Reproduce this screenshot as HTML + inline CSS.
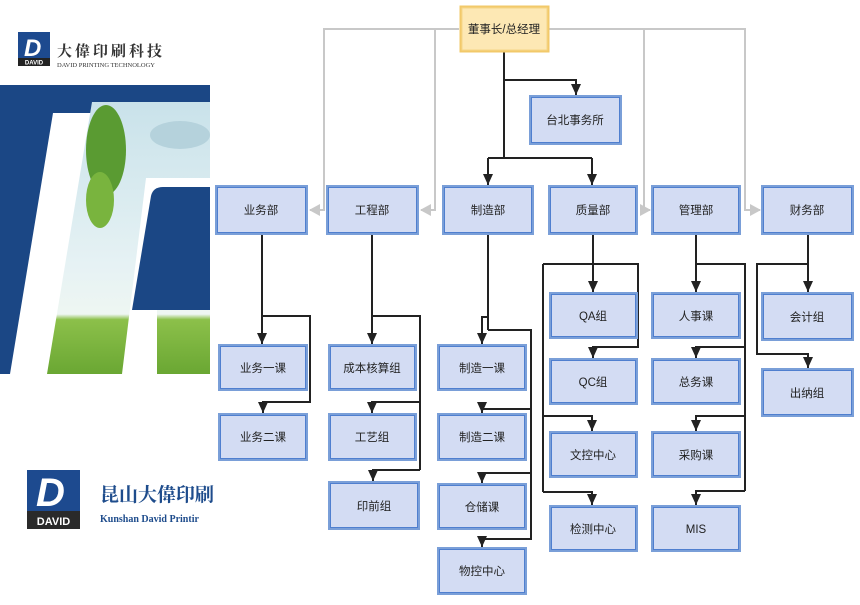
<!DOCTYPE html>
<html><head><meta charset="utf-8">
<style>
body{margin:0;background:#fff;width:860px;height:600px;overflow:hidden;font-family:"Liberation Sans","Noto Sans CJK SC",sans-serif}
</style></head><body>
<svg width="860" height="600" viewBox="0 0 860 600" xmlns="http://www.w3.org/2000/svg">
<defs>
<linearGradient id="sky" x1="0" y1="0" x2="0" y2="1">
<stop offset="0" stop-color="#c9e2ea"/><stop offset="0.6" stop-color="#e6f2f4"/><stop offset="0.78" stop-color="#eef6f2"/><stop offset="0.8" stop-color="#8cc04a"/><stop offset="1" stop-color="#6aa733"/></linearGradient>
<marker id="ab" markerWidth="12" markerHeight="10" refX="11" refY="5" orient="auto" markerUnits="userSpaceOnUse">
<path d="M0,0 L11,5 L0,10 z" fill="#222"/></marker>
<marker id="ag" markerWidth="12" markerHeight="12" refX="10" refY="6" orient="auto" markerUnits="userSpaceOnUse">
<path d="M0,0 L11,6 L0,12 z" fill="#c8c8c8"/></marker>
</defs>
<rect x="18" y="32" width="32" height="34" fill="#1d4a8f"/>
<rect x="18" y="58" width="32" height="8" fill="#222"/>
<text x="34" y="64.5" font-size="6" fill="#fff" text-anchor="middle" font-weight="bold">DAVID</text>
<text x="24" y="56" font-size="24" font-weight="bold" fill="#fff" font-style="italic">D</text>
<text x="57" y="56" font-size="15" font-weight="bold" fill="#333" font-family="'Noto Serif CJK SC',serif" letter-spacing="3">大偉印刷科技</text>
<text x="57" y="67" font-size="6.5" fill="#333" font-family="'Liberation Serif',serif">DAVID PRINTING TECHNOLOGY</text>
<rect x="0" y="85" width="210" height="289" fill="#1b4785"/>
<polygon points="53,113 92,113 48,374 10,374" fill="#fff"/>
<polygon points="92,102 210,102 210,374 47,374" fill="url(#sky)"/>
<ellipse cx="180" cy="135" rx="30" ry="14" fill="#b5d2dc"/>
<ellipse cx="106" cy="150" rx="20" ry="45" fill="#5a9b32"/>
<ellipse cx="100" cy="200" rx="14" ry="28" fill="#79b43e"/>
<polygon points="146,178 210,178 210,310 157,310 157,374 122,374" fill="#fff"/>
<path d="M163,187 L210,187 L210,310 L132,310 L151,196 Q153,187 163,187 z" fill="#1b4785"/>
<rect x="27" y="470" width="53" height="59" fill="#1d4a8f"/>
<rect x="27" y="511" width="53" height="18" fill="#2a2a2a"/>
<text x="53.5" y="525" font-size="11" fill="#fff" text-anchor="middle" font-weight="bold">DAVID</text>
<text x="36" y="506" font-size="40" font-weight="bold" fill="#fff" font-style="italic">D</text>
<text x="100" y="501" font-size="19" font-weight="bold" fill="#1e4c8c" font-family="'Noto Serif CJK SC',serif">昆山大偉印刷</text>
<text x="100" y="522" font-size="10" font-weight="bold" fill="#1e4c8c" font-family="'Liberation Serif',serif">Kunshan David Printir</text>

<g stroke="#c8c8c8" stroke-width="2" fill="none">
<polyline points="459,29 324,29 324,210 310,210" marker-end="url(#ag)"/>
<polyline points="435,29 435,210 421,210" marker-end="url(#ag)"/>
<polyline points="549,29 745,29 745,210 760,210" marker-end="url(#ag)"/>
<polyline points="644,29 644,210 650,210" marker-end="url(#ag)"/>
</g>
<g stroke="#222" stroke-width="2" fill="none">
<polyline points="504,52 504,158"/>
<polyline points="504,80 576,80 576,95" marker-end="url(#ab)"/>
<polyline points="488,158 592,158"/>
<polyline points="488,158 488,185" marker-end="url(#ab)"/>
<polyline points="592,158 592,185" marker-end="url(#ab)"/>
<polyline points="262,235 262,344" marker-end="url(#ab)"/>
<polyline points="262,316 310,316 310,402 263,402 263,413" marker-end="url(#ab)"/>
<polyline points="372,235 372,344" marker-end="url(#ab)"/>
<polyline points="372,316 420,316 420,470"/>
<polyline points="420,402 372,402 372,413" marker-end="url(#ab)"/>
<polyline points="420,470 373,470 373,481" marker-end="url(#ab)"/>
<polyline points="488,235 488,330"/>
<polyline points="488,317 482,317 482,344" marker-end="url(#ab)"/>
<polyline points="488,330 531,330 531,540"/>
<polyline points="531,409 482,409 482,413" marker-end="url(#ab)"/>
<polyline points="531,473 482,473 482,483" marker-end="url(#ab)"/>
<polyline points="531,539 482,539 482,547" marker-end="url(#ab)"/>
<polyline points="593,235 593,292" marker-end="url(#ab)"/>
<polyline points="543,264 638,264 638,347 593,347 593,358" marker-end="url(#ab)"/>
<polyline points="543,264 543,492"/>
<polyline points="543,416 592,416 592,431" marker-end="url(#ab)"/>
<polyline points="543,492 592,492 592,505" marker-end="url(#ab)"/>
<polyline points="696,235 696,292" marker-end="url(#ab)"/>
<polyline points="696,264 745,264 745,491"/>
<polyline points="745,347 696,347 696,358" marker-end="url(#ab)"/>
<polyline points="745,416 696,416 696,431" marker-end="url(#ab)"/>
<polyline points="745,491 696,491 696,505" marker-end="url(#ab)"/>
<polyline points="808,235 808,292" marker-end="url(#ab)"/>
<polyline points="808,264 757,264 757,354 808,354 808,368" marker-end="url(#ab)"/>
</g>
<g font-size="11.5" text-anchor="middle" fill="#222">
<rect x="459.5" y="5.5" width="90" height="47" fill="#f2c96a"/>
<rect x="462" y="8" width="85" height="42" fill="#fde8b4" stroke="#f5d689"/>
<text x="504" y="33">董事长/总经理</text>
</g>
<g font-size="11.5" text-anchor="middle" fill="#222">
<g fill="#7a9fd8"><rect x="529" y="95" width="93" height="50"/><rect x="215" y="185" width="93" height="50"/><rect x="326" y="185" width="93" height="50"/><rect x="442" y="185" width="92" height="50"/><rect x="548" y="185" width="90" height="50"/><rect x="651" y="185" width="90" height="50"/><rect x="761" y="185" width="93" height="50"/>
<rect x="218" y="344" width="90" height="47"/><rect x="218" y="413" width="90" height="48"/>
<rect x="328" y="344" width="89" height="47"/><rect x="328" y="413" width="89" height="48"/><rect x="328" y="481" width="92" height="49"/>
<rect x="437" y="344" width="90" height="47"/><rect x="437" y="413" width="90" height="48"/><rect x="437" y="483" width="90" height="47"/><rect x="437" y="547" width="90" height="48"/>
<rect x="549" y="292" width="89" height="47"/><rect x="549" y="358" width="89" height="47"/><rect x="549" y="431" width="89" height="47"/><rect x="549" y="505" width="89" height="47"/>
<rect x="651" y="292" width="90" height="47"/><rect x="651" y="358" width="90" height="47"/><rect x="651" y="431" width="90" height="47"/><rect x="651" y="505" width="90" height="47"/>
<rect x="761" y="292" width="93" height="49"/><rect x="761" y="368" width="93" height="49"/></g>
<g fill="#d3dcf3" stroke="#4f7fcf" stroke-width="1">
<rect x="531.5" y="97.5" width="88" height="45"/><rect x="217.5" y="187.5" width="88" height="45"/><rect x="328.5" y="187.5" width="88" height="45"/><rect x="444.5" y="187.5" width="87" height="45"/><rect x="550.5" y="187.5" width="85" height="45"/><rect x="653.5" y="187.5" width="85" height="45"/><rect x="763.5" y="187.5" width="88" height="45"/>
<rect x="220.5" y="346.5" width="85" height="42"/><rect x="220.5" y="415.5" width="85" height="43"/>
<rect x="330.5" y="346.5" width="84" height="42"/><rect x="330.5" y="415.5" width="84" height="43"/><rect x="330.5" y="483.5" width="87" height="44"/>
<rect x="439.5" y="346.5" width="85" height="42"/><rect x="439.5" y="415.5" width="85" height="43"/><rect x="439.5" y="485.5" width="85" height="42"/><rect x="439.5" y="549.5" width="85" height="43"/>
<rect x="551.5" y="294.5" width="84" height="42"/><rect x="551.5" y="360.5" width="84" height="42"/><rect x="551.5" y="433.5" width="84" height="42"/><rect x="551.5" y="507.5" width="84" height="42"/>
<rect x="653.5" y="294.5" width="85" height="42"/><rect x="653.5" y="360.5" width="85" height="42"/><rect x="653.5" y="433.5" width="85" height="42"/><rect x="653.5" y="507.5" width="85" height="42"/>
<rect x="763.5" y="294.5" width="88" height="44"/><rect x="763.5" y="370.5" width="88" height="44"/></g>
<text x="575" y="124">台北事务所</text>
<text x="261" y="214">业务部</text><text x="372" y="214">工程部</text><text x="488" y="214">制造部</text><text x="593" y="214">质量部</text><text x="696" y="214">管理部</text><text x="807" y="214">财务部</text>
<text x="263" y="372">业务一课</text><text x="263" y="441">业务二课</text>
<text x="372" y="372">成本核算组</text><text x="372" y="441">工艺组</text><text x="374" y="510">印前组</text>
<text x="482" y="372">制造一课</text><text x="482" y="441">制造二课</text><text x="482" y="511">仓储课</text><text x="482" y="575">物控中心</text>
<text x="593" y="320">QA组</text><text x="593" y="386">QC组</text><text x="593" y="459">文控中心</text><text x="593" y="533">检测中心</text>
<text x="696" y="320">人事课</text><text x="696" y="386">总务课</text><text x="696" y="459">采购课</text><text x="696" y="533">MIS</text>
<text x="807" y="321">会计组</text><text x="807" y="397">出纳组</text>
</g>
</svg>
</body></html>
